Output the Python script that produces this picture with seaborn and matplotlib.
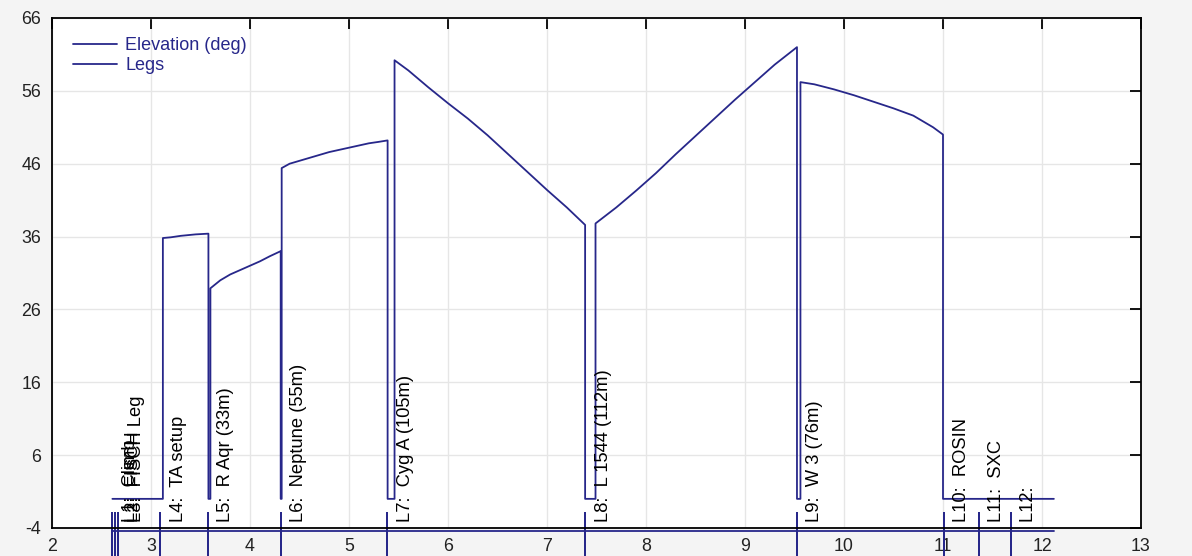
import matplotlib
matplotlib.use("Agg")
import matplotlib.pyplot as plt
import seaborn as sns
import pandas as pd

# ---- data ----
elev_x = [2.61, 3.12, 3.12, 3.20, 3.30, 3.45, 3.58, 3.58, 3.60, 3.60, 3.70, 3.80, 3.90, 4.00,
          4.10, 4.20, 4.31, 4.31, 4.32, 4.32, 4.40, 4.50, 4.60, 4.70, 4.80, 4.90, 5.00, 5.10,
          5.20, 5.30, 5.39, 5.39, 5.46, 5.46, 5.60, 5.80, 6.00, 6.20, 6.40, 6.60, 6.80, 7.00,
          7.20, 7.385, 7.385, 7.49, 7.49, 7.70, 7.90, 8.10, 8.30, 8.50, 8.70, 8.90, 9.10, 9.30,
          9.525, 9.525, 9.56, 9.56, 9.70, 9.90, 10.10, 10.30, 10.50, 10.70, 10.90, 11.00,
          11.00, 12.12]
elev_y = [0, 0, 35.8, 35.9, 36.1, 36.3, 36.4, 0, 0, 28.9, 30.0, 30.8, 31.4, 32.0,
          32.6, 33.3, 34.0, 0, 0, 45.4, 46.0, 46.4, 46.8, 47.2, 47.6, 47.9, 48.2, 48.5,
          48.8, 49.0, 49.2, 0, 0, 60.2, 58.8, 56.5, 54.3, 52.2, 49.9, 47.4, 44.9, 42.4,
          40.0, 37.6, 0, 0, 37.8, 40.0, 42.3, 44.7, 47.3, 49.8, 52.3, 54.8, 57.2, 59.6,
          62.0, 0, 0, 57.2, 56.9, 56.2, 55.4, 54.5, 53.6, 52.6, 51.0, 50.0,
          0, 0]

leg_x = [2.608, 2.639, 2.669, 3.095, 3.572, 4.312, 5.387, 7.385, 9.525, 11.006, 11.361, 11.685]
leg_names = ["Climb", "FISCH", "FISCH Leg", "TA setup", "R Aqr (33m)", "Neptune (55m)",
             "Cyg A (105m)", "L 1544 (112m)", "W 3 (76m)", "ROSIN", "SXC", ""]
legs_end = 12.12
legs_base = -4.45
legs_top = -2.0
legs_bottom = -12.0

x_ticks = list(range(2, 14))
y_ticks = list(range(-4, 67, 10))

# ---- build tables ----
elev_df = pd.DataFrame({"x": elev_x, "y": elev_y})
lx, ly = [], []
for p in leg_x:
    lx += [p, p, p, p]
    ly += [legs_base, legs_top, legs_bottom, legs_base]
lx.append(legs_end)
ly.append(legs_base)
legs_df = pd.DataFrame({"x": lx, "y": ly})

# ---- style ----
sns.set_style("whitegrid")
plt.rcParams["font.family"] = ["Liberation Sans", "DejaVu Sans"]
plt.rcParams["axes.unicode_minus"] = False
navy = "#27278a"

fig = plt.figure(figsize=(11.92, 5.56), dpi=100, facecolor="#f4f4f4")
ax = fig.add_axes([52 / 1192, 1 - 528 / 556, (1141 - 52) / 1192, (528 - 18) / 556])
ax.set_facecolor("white")

sns.lineplot(data=elev_df, x="x", y="y", sort=False, estimator=None, ax=ax,
             color=navy, linewidth=1.3, label="Elevation (deg)")
sns.lineplot(data=legs_df, x="x", y="y", sort=False, estimator=None, ax=ax,
             color=navy, linewidth=1.3, label="Legs")
for line in ax.get_lines()[1:]:
    line.set_clip_on(False)

for i, (p, name) in enumerate(zip(leg_x, leg_names)):
    ax.annotate(f"L{i + 1}:  {name}", xy=(p, -4), xytext=(6.8, 4.5), textcoords="offset points",
                rotation=90, ha="left", va="bottom", fontsize=13.2, color="black")

ax.set_xlim(2, 13)
ax.set_ylim(-4, 66)
ax.set_xticks(x_ticks)
ax.set_yticks(y_ticks)
ax.set_xlabel("")
ax.set_ylabel("")
ax.grid(True, color="#e6e6e6", linewidth=1.0)
for s in ax.spines.values():
    s.set_color("black")
    s.set_linewidth(1.3)
ax.tick_params(axis="both", direction="in", length=8, width=1.3, color="black",
               labelsize=12.8, top=True, right=True, labelcolor="#222222")
ax.tick_params(axis="x", pad=7)
ax.tick_params(axis="y", pad=8)

leg = ax.legend(loc="upper left", frameon=False, fontsize=13, handlelength=2.45,
                handletextpad=0.45, labelspacing=0.17, borderaxespad=0.0, borderpad=0.0,
                bbox_to_anchor=((73 - 52) / 1089, 1 - (37 - 18) / 510))
for t in leg.get_texts():
    t.set_color(navy)

fig.savefig("out.png", dpi=100, facecolor=fig.get_facecolor())
